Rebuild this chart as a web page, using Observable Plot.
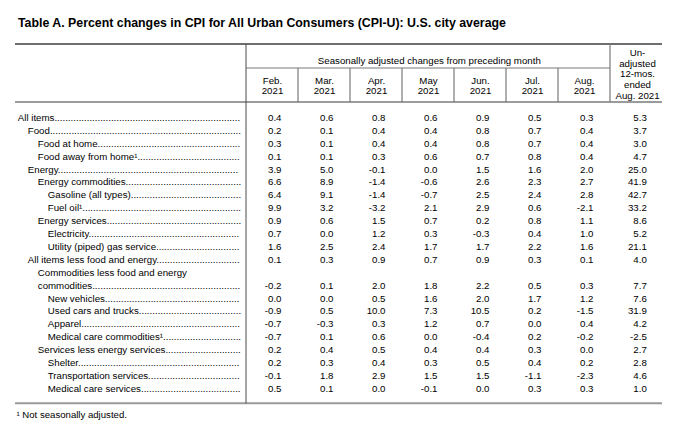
<!DOCTYPE html>
<html><head><meta charset="utf-8">
<script src="https://cdn.jsdelivr.net/npm/d3@7"></script>
<script src="https://cdn.jsdelivr.net/npm/@observablehq/plot@0.6"></script>
<style>
html,body{margin:0;padding:0;background:#fff;}
body{width:690px;height:431px;overflow:hidden;font-family:"Liberation Sans",Arial,sans-serif;color:#000;}
#title{position:relative;height:38px;}
#title span{position:absolute;left:18px;top:15.4px;font-weight:bold;font-size:12.35px;line-height:16px;white-space:nowrap;}
#chart svg{display:block;}
#note{height:23px;font-size:9.6px;line-height:14px;padding-left:16.5px;white-space:nowrap;}
</style></head><body>
<div id="title"><span></span></div>
<div id="chart"></div>
<div id="note"></div>
<script>
// ---------- data ----------
const titleText = "Table A. Percent changes in CPI for All Urban Consumers (CPI-U): U.S. city average";
const spanLabel = "Seasonally adjusted changes from preceding month";
const footnote = "\u00b9 Not seasonally adjusted.";
const items = [
  "All items",
  "Food",
  "Food at home",
  "Food away from home\u00b9",
  "Energy",
  "Energy commodities",
  "Gasoline (all types)",
  "Fuel oil\u00b9",
  "Energy services",
  "Electricity",
  "Utility (piped) gas service",
  "All items less food and energy",
  "Commodities less food and energy\ncommodities",
  "New vehicles",
  "Used cars and trucks",
  "Apparel",
  "Medical care commodities\u00b9",
  "Services less energy services",
  "Shelter",
  "Transportation services",
  "Medical care services"
];
const levels = [0,1,2,2,1,2,3,3,2,3,3,1,2,3,3,3,3,2,3,3,3];
const monthKeys = ["Feb","Mar","Apr","May","Jun","Jul","Aug"];
const monthLabels = ["Feb.\n2021","Mar.\n2021","Apr.\n2021","May\n2021","Jun.\n2021","Jul.\n2021","Aug.\n2021"];
const yoyKey = "12mo";
const yoyLabel = "Un-\nadjusted\n12-mos.\nended\nAug. 2021";
const feb = [0.4,0.2,0.3,0.1,3.9,6.6,6.4,9.9,0.9,0.7,1.6,0.1,-0.2,0.0,-0.9,-0.7,-0.7,0.2,0.2,-0.1,0.5];
const mar = [0.6,0.1,0.1,0.1,5.0,8.9,9.1,3.2,0.6,0.0,2.5,0.3,0.1,0.0,0.5,-0.3,0.1,0.4,0.3,1.8,0.1];
const apr = [0.8,0.4,0.4,0.3,-0.1,-1.4,-1.4,-3.2,1.5,1.2,2.4,0.9,2.0,0.5,10.0,0.3,0.6,0.5,0.4,2.9,0.0];
const may = [0.6,0.4,0.4,0.6,0.0,-0.6,-0.7,2.1,0.7,0.3,1.7,0.7,1.8,1.6,7.3,1.2,0.0,0.4,0.3,1.5,-0.1];
const jun = [0.9,0.8,0.8,0.7,1.5,2.6,2.5,2.9,0.2,-0.3,1.7,0.9,2.2,2.0,10.5,0.7,-0.4,0.4,0.5,1.5,0.0];
const jul = [0.5,0.7,0.7,0.8,1.6,2.3,2.4,0.6,0.8,0.4,2.2,0.3,0.5,1.7,0.2,0.0,0.2,0.3,0.4,-1.1,0.3];
const aug = [0.3,0.4,0.4,0.4,2.0,2.7,2.8,-2.1,1.1,1.0,1.6,0.1,0.3,1.2,-1.5,0.4,-0.2,0.0,0.2,-2.3,0.3];
const yoy = [5.3,3.7,3.0,4.7,25.0,41.9,42.7,33.2,8.6,5.2,21.1,4.0,7.7,7.6,31.9,4.2,-2.5,2.7,2.8,4.6,1.0];

// ---------- layout ----------
const W = 690, H = 370;
const M = {top: 6, right: 26.7, bottom: 4.7, left: 15};
const X_RANGE = [245.3, 663.3];
const Y_RANGE = [79.3, 350.3];
const HEAD_MID = 30, HEAD_BOTTOM = 64;
const FS = 9.7;
const FONT = '"Liberation Sans", Arial, sans-serif';
const LABEL_X = 17.3, INDENT = 10, LEADER_END = 241;

document.querySelector("#title span").textContent = titleText;
document.querySelector("#note").textContent = footnote;

// ---------- tidy tables ----------
const series = [feb, mar, apr, may, jun, jul, aug];
const ctx = document.createElement("canvas").getContext("2d");
ctx.font = `${FS}px ${FONT}`;
const dotW = ctx.measureText(".").width;

// one entry per printed line of the stub; a row's values sit on its last line
const lines = [];
const rowLine = [];
items.forEach((label, i) => {
  const parts = label.split("\n");
  parts.forEach((p, j) => {
    const line = lines.length;
    const last = j === parts.length - 1;
    let display = p;
    if (last) {
      const start = LABEL_X + INDENT * levels[i];
      const w = ctx.measureText(p).width;
      const n = Math.max(0, Math.floor((LEADER_END - start - w) / dotW));
      display = p + ".".repeat(n);
      rowLine.push(line);
    }
    lines.push({line, level: levels[i], display});
  });
});

const cells = [];
items.forEach((_, i) => {
  monthKeys.forEach((k, c) => cells.push({line: rowLine[i], col: k, value: series[c][i]}));
  cells.push({line: rowLine[i], col: yoyKey, value: yoy[i]});
});
const fmt = v => v.toFixed(1);

function tableRules(...args) {
  const scales = args.find(a => a && typeof a === "object" && typeof a.x === "function");
  const x = scales.x;
  const step = x(monthKeys[1]) - x(monthKeys[0]);
  const x0 = x(monthKeys[0]), xEnd = x(yoyKey) + step, xMonthsEnd = x(yoyKey);
  const g = d3.create("svg:g").attr("fill", "none");
  const ln = (x1, y1, x2, y2, stroke, w) => g.append("line")
    .attr("x1", x1).attr("y1", y1).attr("x2", x2).attr("y2", y2)
    .attr("stroke", stroke).attr("stroke-width", w);
  const top = M.top, bottom = H - M.bottom, left = M.left;
  ln(left, top, xEnd, top, "#6e6e6e", 2);
  ln(x0, HEAD_MID, xMonthsEnd, HEAD_MID, "#7a7a7a", 1.2);
  ln(left, HEAD_BOTTOM, xEnd, HEAD_BOTTOM, "#7a7a7a", 1.5);
  ln(left, bottom, xEnd, bottom, "#9a9a9a", 2);
  ln(x0, top, x0, bottom, "#4a4a4a", 1);
  monthKeys.slice(1).forEach(k => ln(x(k), HEAD_MID, x(k), HEAD_BOTTOM, "#7a7a7a", 1.2));
  ln(x(yoyKey), top, x(yoyKey), HEAD_BOTTOM, "#7a7a7a", 1.2);
  return g.node();
}

const labelMarks = [0, 1, 2, 3].map(k => Plot.text(lines.filter(l => l.level === k), {
  y: "line", text: "display", frameAnchor: "left", textAnchor: "start",
  dx: LABEL_X - M.left + INDENT * k, fontSize: FS
}));

const plot = Plot.plot({
  width: W, height: H,
  marginTop: M.top, marginRight: M.right, marginBottom: M.bottom, marginLeft: M.left,
  style: {fontFamily: FONT, fontSize: `${FS}px`, color: "#000", background: "#fff"},
  x: {type: "band", domain: [...monthKeys, yoyKey], range: X_RANGE, padding: 0, axis: null},
  y: {type: "linear", domain: [0, lines.length - 1], range: Y_RANGE, axis: null},
  marks: [
    tableRules,
    Plot.text([monthKeys[3]], {x: d => d, text: () => spanLabel, frameAnchor: "top", dy: 12.3, dx: 0.8, fontSize: FS}),
    Plot.text(monthKeys, {x: d => d, text: (d, i) => monthLabels[i], frameAnchor: "top", dy: 41.3, lineAnchor: "middle", lineHeight: 1.03, fontSize: FS}),
    Plot.text([yoyKey], {x: d => d, text: () => yoyLabel, frameAnchor: "top", dy: 29.3, dx: 1, lineAnchor: "middle", lineHeight: 1.1, fontSize: FS}),
    ...labelMarks,
    Plot.text(cells.filter(d => d.col !== yoyKey), {x: "col", y: "line", text: d => fmt(d.value), textAnchor: "end", dx: 9, fontSize: FS}),
    Plot.text(cells.filter(d => d.col === yoyKey), {x: "col", y: "line", text: d => fmt(d.value), textAnchor: "end", dx: 10.3, fontSize: FS})
  ]
});
document.getElementById("chart").appendChild(plot);
</script>
</body></html>
